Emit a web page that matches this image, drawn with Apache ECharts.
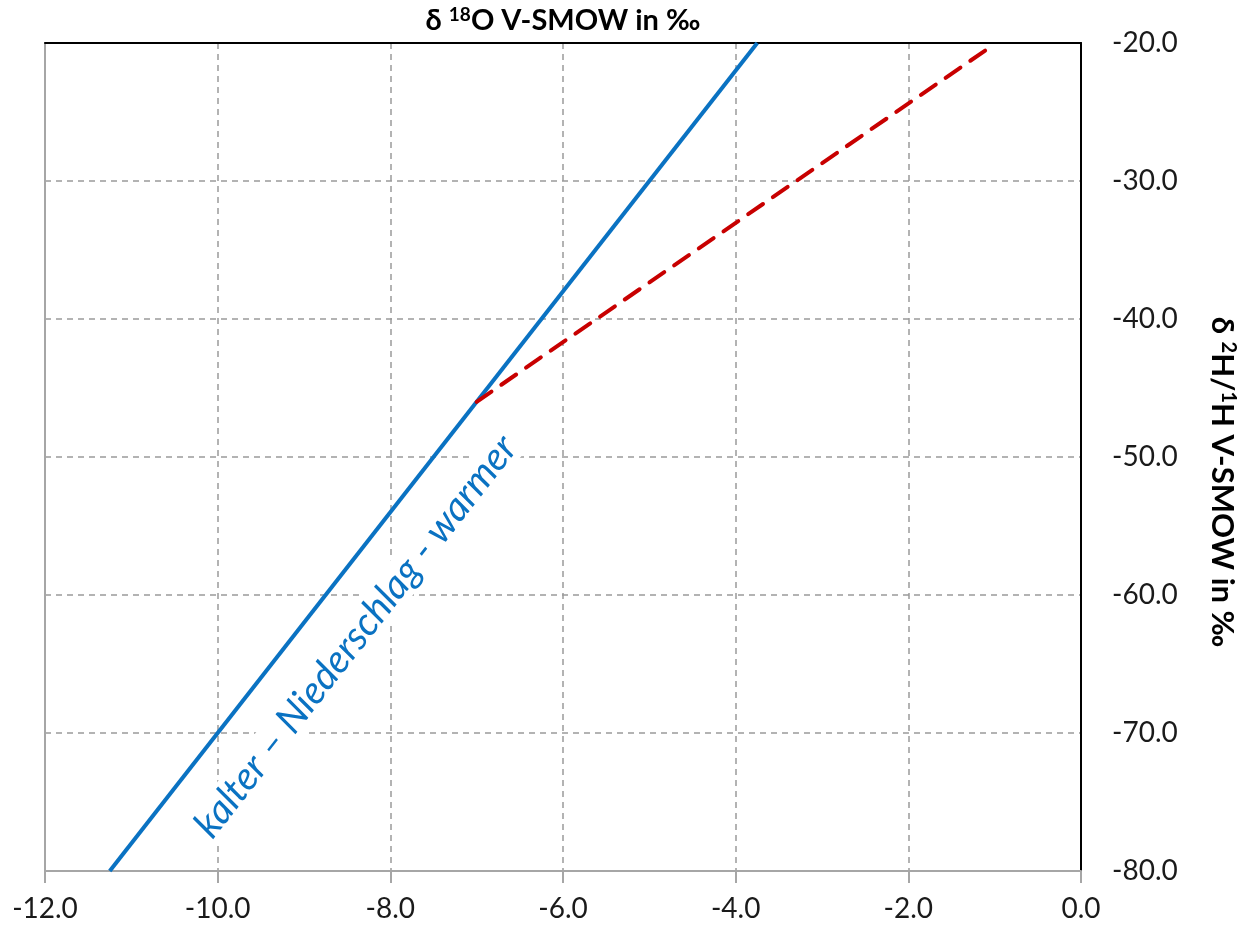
<!DOCTYPE html>
<html>
<head>
<meta charset="utf-8">
<script src="https://cdn.jsdelivr.net/npm/echarts@6/dist/echarts.min.js"></script>
<style>html,body{margin:0;padding:0;background:#fff}#c{width:1245px;height:928px}</style>
</head>
<body>
<div id="c"></div>
<script>
// data
const xTicks = [-12, -10, -8, -6, -4, -2, 0];
const yTicks = [-80, -70, -60, -50, -40, -30, -20];
const gmwlX = [-11.25, -3.75];
const gmwlY = [-80, -20];
const evapX = [-7.0, -1.1];
const evapY = [-46, -20.5];
const annotation = { x: -8.4, y: -63.0, text: 'kalter – Niederschlag - warmer' };

const FONT = 'Lato';
const chart = echarts.init(document.getElementById('c'));
const fmt = v => Number(v).toFixed(1);
chart.setOption({
  animation: false,
  grid: { left: 45, right: 164, top: 42, bottom: 57, containLabel: false },
  xAxis: [{
    type: 'value', position: 'bottom', min: xTicks[0], max: xTicks[xTicks.length - 1], interval: 2,
    axisLine: { show: true, onZero: false, lineStyle: { color: '#a6a6a6', width: 2 } },
    axisTick: { show: true, length: 12, lineStyle: { color: '#a6a6a6', width: 2 } },
    axisLabel: { formatter: fmt, fontFamily: FONT, fontSize: 28, color: '#1a1a1a', margin: 24 },
    splitLine: { show: true, lineStyle: { type: [6, 5], color: '#9a9a9a', width: 1.5 } }
  }, {
    type: 'value', position: 'top', min: xTicks[0], max: xTicks[xTicks.length - 1], interval: 2,
    axisLine: { show: true, onZero: false, lineStyle: { color: '#000', width: 2 } },
    axisTick: { show: false }, axisLabel: { show: false }, splitLine: { show: false },
    name: '{a|δ }{s|18}{a|O V-SMOW in ‰}', nameLocation: 'middle', nameGap: 7,
    nameTextStyle: {
      rich: {
        a: { fontFamily: FONT, fontSize: 29, fontWeight: 'bold', color: '#000' },
        s: { fontFamily: FONT, fontSize: 19, fontWeight: 'bold', color: '#000', padding: [0, 0, 12, 0] }
      }
    }
  }],
  yAxis: [{
    type: 'value', position: 'right', min: yTicks[0], max: yTicks[yTicks.length - 1], interval: 10,
    axisLine: { show: true, onZero: false, lineStyle: { color: '#000', width: 2 } },
    axisTick: { show: false },
    axisLabel: { formatter: fmt, fontFamily: FONT, fontSize: 28, color: '#1a1a1a', margin: 31 },
    splitLine: { show: true, lineStyle: { type: [6, 5], color: '#9a9a9a', width: 1.5 } }
  }, {
    type: 'value', position: 'left', min: yTicks[0], max: yTicks[yTicks.length - 1], interval: 10,
    axisLine: { show: true, onZero: false, lineStyle: { color: '#a6a6a6', width: 2 } },
    axisTick: { show: false }, axisLabel: { show: false }, splitLine: { show: false }
  }],
  series: [{
    type: 'line', xAxisIndex: 0, yAxisIndex: 0, symbol: 'none',
    data: gmwlX.map((x, i) => [x, gmwlY[i]]),
    lineStyle: { color: '#0a72c2', width: 4 }, z: 3,
    markPoint: {
      symbol: 'circle', symbolSize: 0, silent: true,
      data: [{ coord: [annotation.x, annotation.y], value: 0 }],
      label: {
        show: true, position: 'inside', rotate: 52, formatter: annotation.text,
        fontFamily: FONT, fontStyle: 'italic', fontSize: 39, color: '#0a72c2',
        backgroundColor: '#fff', padding: [0, 2]
      }
    }
  }, {
    type: 'line', xAxisIndex: 0, yAxisIndex: 0, symbol: 'none',
    data: evapX.map((x, i) => [x, evapY[i]]),
    lineStyle: { color: '#c80000', width: 4, type: [18, 12], cap: 'round' }, z: 4
  }],
  graphic: [{
    type: 'text', x: 1222, y: 482, rotation: -Math.PI / 2,
    style: {
      text: '{a|δ }{s|2}{a|H/}{s|1}{a|H V-SMOW in ‰}', align: 'center', verticalAlign: 'middle',
      rich: {
        a: { fontFamily: FONT, fontSize: 31, fontWeight: 'bold', fill: '#000' },
        s: { fontFamily: FONT, fontSize: 20, fontWeight: 'bold', fill: '#000', padding: [0, 0, 13, 0] }
      }
    }
  }]
});
</script>
</body>
</html>
